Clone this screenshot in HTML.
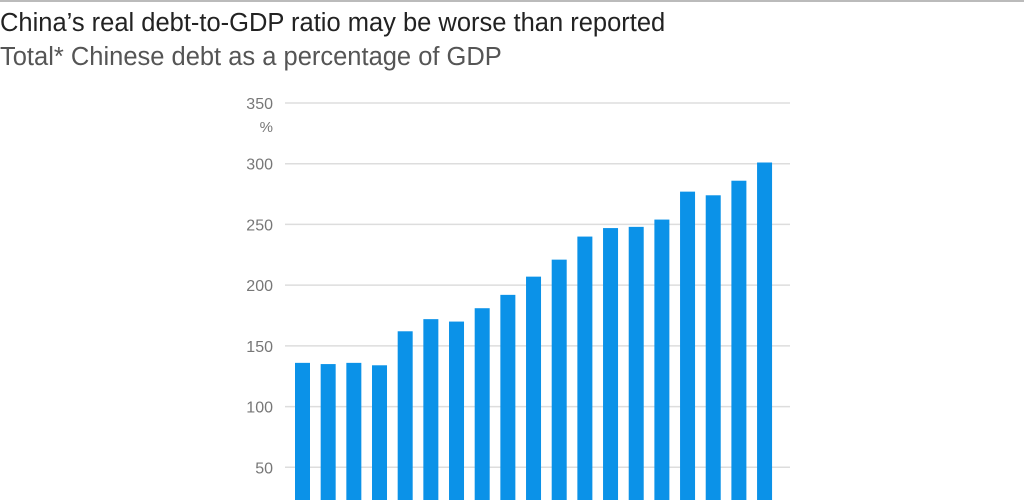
<!DOCTYPE html>
<html><head><meta charset="utf-8"><style>
html,body{margin:0;padding:0;background:#fff;width:1024px;height:500px;overflow:hidden}
svg{display:block;overflow:hidden}
</style></head><body>
<svg id="chart" width="1024" height="500" font-family="Liberation Sans, sans-serif">
<rect x="0" y="0" width="1024" height="2" fill="#bbb"/>
<text x="0" y="31" font-size="25.5" fill="#222">China’s real debt-to-GDP ratio may be worse than reported</text>
<text x="0" y="65" font-size="25.5" fill="#555">Total* Chinese debt as a percentage of GDP</text>
<g id="grid"></g><g id="bars"></g>
<text x="273" y="132" font-size="15" fill="#777" text-anchor="end">%</text>
</svg>
<script>
const categories=["1","2","3","4","5","6","7","8","9","10","11","12","13","14","15","16","17","18","19"];
const values=[136,135,136,134,162,172,170,181,192,207,221,240,247,248,254,277,274,286,301];
const ticks=[50,100,150,200,250,300,350];
const ns="http://www.w3.org/2000/svg";
const y=v=>528-v*(528-103)/350;
const x=i=>302.5+i*25.67;
const g=document.getElementById('grid'),b=document.getElementById('bars');
ticks.forEach(t=>{
 const l=document.createElementNS(ns,'line');
 l.setAttribute('x1',285);l.setAttribute('x2',790);l.setAttribute('y1',y(t));l.setAttribute('y2',y(t));
 l.setAttribute('stroke','#ddd');l.setAttribute('stroke-width','1.5');
 
 
 g.appendChild(l);
 const tx=document.createElementNS(ns,'text');
 tx.setAttribute('x',273);tx.setAttribute('y',y(t)+6);tx.setAttribute('font-size','16');
 tx.setAttribute('fill','#777');tx.setAttribute('text-anchor','end');tx.textContent=t;
 
 
 g.appendChild(tx);
});
values.forEach((v,i)=>{
 const r=document.createElementNS(ns,'rect');
 r.setAttribute('x',x(i)-7.5);r.setAttribute('width',15);
 r.setAttribute('y',y(v));r.setAttribute('height',Math.max(0,500-y(v)));
 r.setAttribute('fill','#0b92e8');
 
 
 b.appendChild(r);
});
</script>
</body></html>
